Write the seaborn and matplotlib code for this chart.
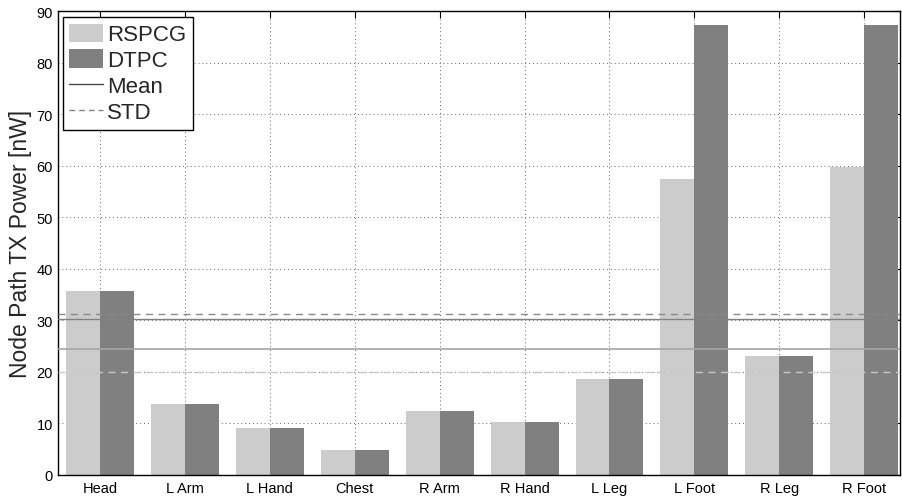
import numpy as np
import pandas as pd
import matplotlib
matplotlib.use("Agg")
import matplotlib.pyplot as plt
import seaborn as sns
from matplotlib.lines import Line2D
from matplotlib.patches import Patch

# Per-node path transmit power for the two power-control schemes
body_parts = ["Head", "L Arm", "L Hand", "Chest", "R Arm",
              "R Hand", "L Leg", "L Foot", "R Leg", "R Foot"]
schemes = ["RSPCG", "DTPC"]
rspcg_power = [35.7, 13.8, 9.1, 4.85, 12.4, 10.3, 18.6, 57.4, 23.1, 59.8]
dtpc_power = [35.7, 13.8, 9.1, 4.85, 12.4, 10.3, 18.6, 87.3, 23.1, 87.3]
y_ticks = list(range(0, 91, 10))

bar_colors = ["#cccccc", "#808080"]

df = pd.DataFrame({
    "part": body_parts * 2,
    "scheme": [schemes[0]] * len(body_parts) + [schemes[1]] * len(body_parts),
    "power": rspcg_power + dtpc_power,
})

sns.set_style("white")
plt.rcParams["font.family"] = ["Liberation Sans", "DejaVu Sans"]

fig = plt.figure(figsize=(9.03, 5.02), dpi=100)
ax = fig.add_axes([0.0646, 0.0518, 0.932, 0.9237])

sns.barplot(data=df, x="part", y="power", hue="scheme", order=body_parts,
            hue_order=schemes, palette=bar_colors, saturation=1, width=0.8,
            linewidth=0, errorbar=None, legend=False, ax=ax)

# Mean and standard deviation of each scheme
r_mean, r_std = np.mean(rspcg_power), np.std(rspcg_power, ddof=1)
d_mean, d_std = np.mean(dtpc_power), np.std(dtpc_power, ddof=1)
ax.axhline(d_std, color="#8a8a8a", lw=1.0, ls=(0, (5, 4)), zorder=3)
ax.axhline(d_mean, color="#808080", lw=1.0, zorder=3)
ax.axhline(r_mean, color="#a6a6a6", lw=1.2, zorder=3)
ax.axhline(r_std, color="#c8c8c8", lw=1.0, ls=(0, (5, 4)), zorder=3)

ax.set_xlim(-0.49, 9.42)
ax.set_ylim(0, 90)
ax.set_yticks(y_ticks)
ax.set_xlabel("")
ax.set_ylabel("Node Path TX Power [nW]", fontsize=16.5, labelpad=3)

ax.set_axisbelow(True)
ax.grid(True, which="major", axis="both", color="#666666", ls=(0, (1, 3)), lw=0.7)
for s in ax.spines.values():
    s.set_visible(True)
    s.set_color("black")
    s.set_linewidth(1.0)
ax.tick_params(direction="in", length=5, width=0.8, top=True, right=True,
               labelsize=10.5, colors="black", pad=4)

handles = [
    Patch(facecolor=bar_colors[0], edgecolor="none"),
    Patch(facecolor=bar_colors[1], edgecolor="none"),
    Line2D([], [], color="#4a4a4a", lw=1.0),
    Line2D([], [], color="#808080", lw=1.0, ls=(0, (4, 3))),
]
leg = ax.legend(handles, ["RSPCG", "DTPC", "Mean", "STD"], loc="upper left",
                bbox_to_anchor=(0.005, 0.988), fontsize=16, frameon=True,
                fancybox=False, edgecolor="black", framealpha=1,
                handlelength=1.5, handleheight=0.9, handletextpad=0.2,
                labelspacing=0.18, borderpad=0.3, borderaxespad=0)
leg.get_frame().set_linewidth(1.0)

fig.savefig("out.png", dpi=100)
